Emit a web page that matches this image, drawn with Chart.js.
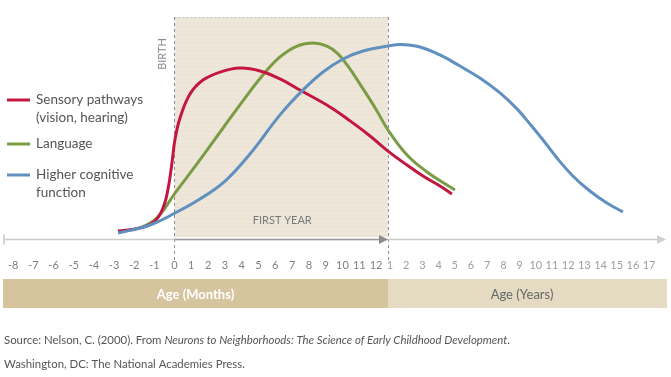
<!DOCTYPE html>
<html><head><meta charset="utf-8">
<script src="https://cdn.jsdelivr.net/npm/chart.js@4"></script>
<style>html,body{margin:0;padding:0;background:#fff;}canvas{display:block;}</style>
</head><body>
<canvas id="c" width="671" height="377"></canvas>
<script>
// ---- DATA (ages in months; negative = before birth; values = relative development, 0-100) ----
const seriesNames = ['Sensory pathways|(vision, hearing)', 'Language', 'Higher cognitive|function'];
const sensoryAges   = [-2.8, -1.71, -0.97, -0.57, -0.32, -0.12, 0.03, 0.31, 0.87, 1.6, 2.56, 3.68, 4.81, 5.93, 7.05, 8.74, 9.87, 10.99, 12, 26.1, 37.9, 50.5, 59.4];
const sensoryValues = [3.6, 5.0, 8.1, 14.0, 22.5, 34.7, 45.0, 54.5, 65.3, 71.6, 75.2, 77.0, 75.7, 72.1, 67.1, 59.5, 53.2, 46.4, 39.6, 33.3, 28.4, 23.9, 20.3];
const languageAges   = [-2.8, -1.71, -0.87, 0.03, 1.43, 2.73, 3.96, 4.97, 5.93, 6.89, 7.79, 8.57, 9.13, 9.7, 10.6, 11.38, 12, 26.1, 40.9, 61.6];
const languageValues = [3.2, 5.0, 9.5, 20.7, 35.6, 50.0, 63.5, 73.9, 82.0, 86.9, 88.3, 86.9, 83.8, 78.4, 67.6, 57.7, 49.1, 37.8, 30.2, 22.1];
const cognitiveAges   = [-2.8, -1.21, 0.03, 1.43, 2.84, 4.24, 5.93, 7.17, 8.35, 9.47, 10.6, 12, 20.9, 35.7, 50.5, 65.3, 80.1, 95.0, 107.6, 117.2, 126.9, 137.2, 149.0, 161.6, 174.2, 186.1];
const cognitiveValues = [2.7, 6.3, 11.7, 18.0, 26.1, 38.3, 55.9, 66.7, 75.2, 81.1, 84.7, 86.9, 87.6, 86.5, 82.9, 77.9, 72.5, 65.8, 58.6, 51.8, 44.6, 36.5, 28.4, 21.6, 16.2, 12.2];
const monthTicks = [-8,-7,-6,-5,-4,-3,-2,-1,0,1,2,3,4,5,6,7,8,9,10,11,12];
const yearTicks  = [1,2,3,4,5,6,7,8,9,10,11,12,13,14,15,16,17];
const bandLabels = ['Age (Months)', 'Age (Years)'];
const birthLabel = 'BIRTH';
const firstYearLabel = 'FIRST YEAR';

// ---- axis mapping (layout of the infographic's broken age axis) ----
function ageToU(m){
  if (m <= 0) return m * 1.2;
  if (m <= 12) return m * (12.71 / 12);
  return 12.71 + (m / 12 - 1) * 0.964;
}
function monthTickU(m){ return m < 0 ? m * 1.2 : m; }
function yearTickU(y){ return ageToU(12 * y) + 0.12; }
const tickValues = [...monthTicks.map(monthTickU), ...yearTicks.map(yearTickU)];
const tickLabels = [...monthTicks.map(String), ...yearTicks.map(String)];

const COLORS = ['#c4173f', '#7b9c45', '#5f90bf'];
const FONT = 'Lato, "Open Sans", sans-serif';
const pts = (ages, vals) => ages.map((a, i) => ({x: ageToU(a), y: vals[i]}));

const deco = {
  id: 'deco',
  beforeDatasetsDraw(chart){
    const {ctx, chartArea: a, scales: {x}} = chart;
    const xb = x.getPixelForValue(ageToU(0)), xe = x.getPixelForValue(ageToU(12));
    ctx.save();
    ctx.fillStyle = '#eee7d9';
    ctx.fillRect(xb, a.top, xe - xb, a.bottom - a.top - 2);
    ctx.fillStyle = 'rgba(190,175,145,0.22)';
    for (let yy = a.top + 2, r = 0; yy < a.bottom - 3; yy += 4, r++)
      for (let xx = xb + 1 + (r % 2) * 2; xx < xe - 1; xx += 4) ctx.fillRect(xx, yy, 1, 1);
    ctx.strokeStyle = '#c4c4c4'; ctx.lineWidth = 1; ctx.setLineDash([2, 2]);
    ctx.beginPath(); ctx.moveTo(xb, a.top + 0.5); ctx.lineTo(xe, a.top + 0.5); ctx.stroke();
    ctx.strokeStyle = '#8f8f8f'; ctx.setLineDash([3, 3]);
    [xb, xe].forEach(px => { ctx.beginPath(); ctx.moveTo(Math.round(px) + 0.5, a.top); ctx.lineTo(Math.round(px) + 0.5, a.bottom + 22); ctx.stroke(); });
    ctx.setLineDash([]);
    const ay = a.bottom + 0.5;
    ctx.strokeStyle = '#cbcbcb'; ctx.lineWidth = 1.6;
    ctx.beginPath(); ctx.moveTo(a.left, ay); ctx.lineTo(a.right - 6, ay); ctx.stroke();
    ctx.beginPath(); ctx.moveTo(a.left, ay - 5); ctx.lineTo(a.left, ay + 5); ctx.stroke();
    ctx.fillStyle = '#cfcfcf';
    ctx.beginPath(); ctx.moveTo(a.right + 1, ay); ctx.lineTo(a.right - 8, ay - 4.5); ctx.lineTo(a.right - 8, ay + 4.5); ctx.closePath(); ctx.fill();
    ctx.strokeStyle = '#9c9c9c';
    ctx.beginPath(); ctx.moveTo(xb, ay); ctx.lineTo(xe - 6, ay); ctx.stroke();
    ctx.fillStyle = '#8c8c8c';
    ctx.beginPath(); ctx.moveTo(xe, ay); ctx.lineTo(xe - 9, ay - 4.5); ctx.lineTo(xe - 9, ay + 4.5); ctx.closePath(); ctx.fill();
    ctx.fillStyle = '#7a7a7a'; ctx.font = '11px ' + FONT; ctx.textAlign = 'center'; ctx.textBaseline = 'middle';
    ctx.fillText(firstYearLabel, (xb + xe) / 2 + 1, a.bottom - 19);
    ctx.save(); ctx.translate(xb - 12, a.top + 37); ctx.rotate(-Math.PI / 2);
    ctx.fillStyle = '#8a8a8a'; ctx.fillText(birthLabel, 0, 0); ctx.restore();
    ctx.restore();
  },
  afterDraw(chart){
    const {ctx, scales: {x}} = chart;
    const xe = x.getPixelForValue(ageToU(12));
    ctx.save();
    const bt = 279, bh = 29;
    ctx.fillStyle = '#d5c49d'; ctx.fillRect(3, bt, xe - 3, bh);
    ctx.fillStyle = '#e5dbc2'; ctx.fillRect(xe, bt, 667 - xe, bh);
    ctx.textAlign = 'center'; ctx.textBaseline = 'middle';
    ctx.font = 'bold 13px ' + FONT; ctx.fillStyle = '#ffffff';
    ctx.fillText(bandLabels[0], (3 + xe) / 2, bt + bh / 2 + 1);
    ctx.font = '13px ' + FONT; ctx.fillStyle = '#666666';
    ctx.fillText(bandLabels[1], 522, bt + bh / 2 + 1);
    const ly = [100, 144, 175];
    ctx.textAlign = 'left'; ctx.font = '13.5px ' + FONT; ctx.fillStyle = '#555555';
    seriesNames.forEach((n, i) => {
      ctx.strokeStyle = COLORS[i]; ctx.lineWidth = 3;
      ctx.beginPath(); ctx.moveTo(7, ly[i]); ctx.lineTo(30, ly[i]); ctx.stroke();
      n.split('|').forEach((t, j) => ctx.fillText(t, 36, ly[i] + j * 18));
    });
    const sf = '11.4px ' + FONT;
    ctx.font = sf; ctx.fillStyle = '#555555';
    let sx = 4; const sy = 340;
    const p1 = 'Source: Nelson, C. (2000). From ';
    ctx.fillText(p1, sx, sy); sx += ctx.measureText(p1).width;
    ctx.font = 'italic ' + sf;
    const p2 = 'Neurons to Neighborhoods: The Science of Early Childhood Development';
    ctx.fillText(p2, sx, sy); sx += ctx.measureText(p2).width;
    ctx.font = sf; ctx.fillText('.', sx, sy);
    ctx.fillText('Washington, DC: The National Academies Press.', 4, 364);
    ctx.restore();
  }
};

Chart.defaults.font.family = FONT;
new Chart(document.getElementById('c'), {
  type: 'line',
  data: {
    datasets: [
      {label: 'Sensory pathways (vision, hearing)', data: pts(sensoryAges, sensoryValues), borderColor: COLORS[0], order: 1},
      {label: 'Language', data: pts(languageAges, languageValues), borderColor: COLORS[1], order: 2},
      {label: 'Higher cognitive function', data: pts(cognitiveAges, cognitiveValues), borderColor: COLORS[2], order: 0}
    ].map(d => Object.assign(d, {borderWidth: 3, pointRadius: 0, fill: false, tension: 0.4, borderCapStyle: 'butt'}))
  },
  options: {
    responsive: false, animation: false, devicePixelRatio: 1,
    layout: {autoPadding: false, padding: {left: 4, right: 6, top: 17, bottom: 106}},
    plugins: {legend: {display: false}, tooltip: {enabled: false}},
    scales: {
      x: {
        type: 'linear', min: -10.15, max: 29.2,
        grid: {display: false, drawTicks: false}, border: {display: false},
        afterBuildTicks: s => { s.ticks = tickValues.map(v => ({value: v})); },
        afterFit: s => { s.height = 32; s.paddingLeft = 0; s.paddingRight = 0; },
        ticks: {
          autoSkip: false, maxRotation: 0, minRotation: 0, padding: 20,
          font: {size: 11},
          color: c => c.index < monthTicks.length ? '#7f7f7f' : '#9e9e9e',
          callback: (v, i) => tickLabels[i]
        }
      },
      y: {display: false, min: 0, max: 100}
    }
  },
  plugins: [deco]
});
</script>
</body></html>
